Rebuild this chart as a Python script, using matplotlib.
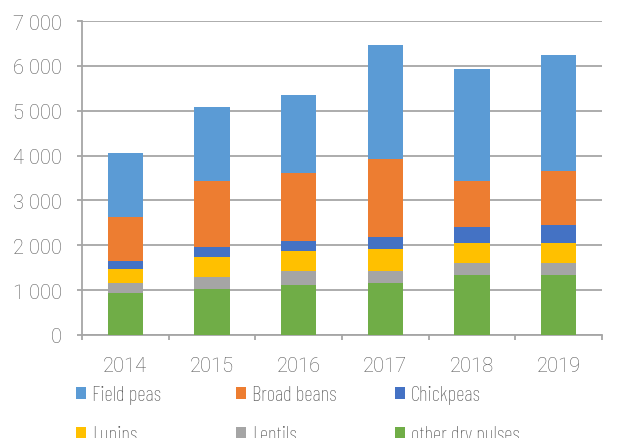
import matplotlib
matplotlib.use("Agg")
import matplotlib.pyplot as plt
from matplotlib.patches import Patch
from matplotlib.ticker import FuncFormatter, MultipleLocator, FixedLocator
import numpy as np

years = ["2014", "2015", "2016", "2017", "2018", "2019"]
series_names = ["Field peas", "Broad beans", "Chickpeas", "Lupins", "Lentils", "other dry pulses"]
other_dry = [940, 1025, 1115, 1160, 1340, 1340]
lentils = [220, 270, 310, 270, 265, 265]
lupins = [310, 445, 445, 490, 445, 445]
chickpeas = [180, 225, 225, 270, 355, 400]
broad_beans = [990, 1470, 1525, 1740, 1025, 1205]
field_peas = [1420, 1650, 1730, 2540, 2500, 2590]

colors = {
    "Field peas": "#5B9BD5",
    "Broad beans": "#ED7D31",
    "Chickpeas": "#4472C4",
    "Lupins": "#FFC000",
    "Lentils": "#A5A5A5",
    "other dry pulses": "#70AD47",
}

plt.rcParams['font.family'] = ['Roboto', 'DejaVu Sans']
plt.rcParams['font.weight'] = 'light'
txt_color = "#595959"
grid_color = "#A6A6A6"
FS = 14.5

fig = plt.figure(figsize=(6.28, 4.39), dpi=100)
ax = fig.add_axes([82/628, 1-336/439, 520/628, 314/439])

x = np.arange(len(years))
stack_order = [("other dry pulses", other_dry), ("Lentils", lentils), ("Lupins", lupins),
               ("Chickpeas", chickpeas), ("Broad beans", broad_beans), ("Field peas", field_peas)]
bottom = np.zeros(len(years))
for name, vals in stack_order:
    v = np.array(vals, dtype=float)
    ax.bar(x, v, width=0.41, bottom=bottom, color=colors[name], zorder=3, linewidth=0)
    bottom += v

ax.set_xlim(-0.5, len(years) - 0.5)
ax.set_ylim(0, 7000)
ax.yaxis.set_major_locator(MultipleLocator(1000))
ax.yaxis.set_major_formatter(FuncFormatter(lambda v, p: f"{int(v):,}".replace(",", " ")))
ax.set_xticks(x)
ax.set_xticklabels(years)
ax.xaxis.set_minor_locator(FixedLocator(np.arange(-0.5, len(years), 1.0)))

ax.grid(axis='y', color=grid_color, linewidth=1.3, zorder=0)
for s in ["top", "right"]:
    ax.spines[s].set_visible(False)
for s in ["left", "bottom"]:
    ax.spines[s].set_color(grid_color)
    ax.spines[s].set_linewidth(1.3)

ax.tick_params(axis='y', which='major', length=3.5, width=1.3, color=grid_color,
               labelsize=FS, labelcolor=txt_color, pad=11)
ax.tick_params(axis='x', which='major', length=0, labelsize=FS, labelcolor=txt_color, pad=15)
ax.tick_params(axis='x', which='minor', length=3.5, width=1.3, color=grid_color)

# Legend: three columns, each a separate legend
legend_cols = [["Field peas", "Lupins"], ["Broad beans", "Lentils"], ["Chickpeas", "other dry pulses"]]
col_x = [76, 236, 395]
for cx, names in zip(col_x, legend_cols):
    handles = [Patch(facecolor=colors[n], edgecolor='none') for n in names]
    leg = fig.legend(handles, names, loc='upper left', bbox_to_anchor=(cx/628, 1-386/439),
                     frameon=False, handlelength=0.5, handleheight=0.5,
                     handletextpad=0.25, labelspacing=1.0, borderaxespad=0, borderpad=0,
                     prop={'family': ['Barlow Condensed', 'DejaVu Sans'], 'weight': 'light', 'size': 15})
    for t in leg.get_texts():
        t.set_color(txt_color)

fig.savefig("out.png", dpi=100)
